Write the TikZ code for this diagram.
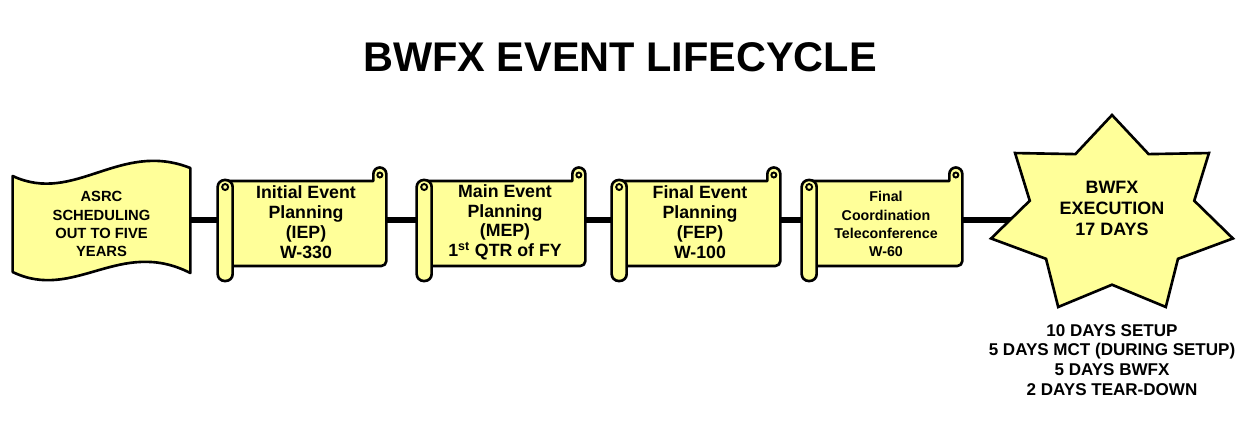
\documentclass[tikz,border=0pt]{standalone}
\usepackage{fontspec}
\setmainfont{Liberation Sans}
\usetikzlibrary{shapes.geometric,calc}
\definecolor{scrollyellow}{RGB}{255,255,153}
\pgfdeclarelayer{links}
\pgfdeclarelayer{shapes}
\pgfsetlayers{links,shapes,main}
\newcommand{\toppad}[1]{\rule{0pt}{#1}}
\newcommand{\scrollshape}[1]{%
  \draw[shapeline] ($(#1.west)+(0,-39)$) -- ($(#1.east)+(-13,-39)$) -- ($(#1.east)+(-13,-46)$)
    arc[start angle=180, end angle=0, radius=0.13cm] -- ($(#1.east)+(0,41)$)
    arc[start angle=0, end angle=-90, radius=0.1cm] -- ($(#1.west)+(0,46)$) -- cycle;
  \draw[curlline] ($(#1.east)+(-6.5,-45)$) circle (0.05cm);
  \draw[shapeline, rounded corners=0.14cm] ($(#1.west)+(-8,-40)$) rectangle ($(#1.west)+(7,61)$);
  \draw[curlline] ($(#1.west)+(-0.5,-33)$) circle (0.06cm);
}

\begin{document}
\begin{tikzpicture}[
  x=0.02cm, y=-0.02cm,
  shapeline/.style={draw=black, line width=1.5pt, fill=scrollyellow, line join=round},
  curlline/.style={draw=black, line width=1.1pt},
  link/.style={draw=black, line width=3.1pt},
  scrolltext/.style={inner sep=0pt, align=center, font=\fontsize{10.1}{11.3}\selectfont\bfseries},
  smalltext/.style={inner sep=0pt, align=center, font=\fontsize{8.4}{10.4}\selectfont\bfseries},
  execstar/.style={star, star points=7, star point ratio=1.47, minimum size=4.04cm, inner sep=0pt,
    outer sep=0pt, draw=black, line width=1.5pt, fill=scrollyellow, transform shape}
]
\useasboundingbox (0,0) rectangle (1247,424);
\node[font=\fontsize{23.6}{28}\selectfont\bfseries] (title) at (620,57) {BWFX EVENT LIFECYCLE};

\node[smalltext, minimum width=3.54cm] (asrc) at (101.5,220) {\toppad{10.5pt}ASRC\\SCHEDULING\\OUT TO FIVE\\YEARS};
\node[scrolltext, minimum width=3.2cm] (iep) at (306,220) {\toppad{10pt}Initial Event\\Planning\\(IEP)\\W-330};
\node[scrolltext, minimum width=3.2cm] (mep) at (505,220) {\toppad{10pt}Main Event\\Planning\\(MEP)\\1\textsuperscript{st} QTR of FY};
\node[scrolltext, minimum width=3.2cm] (fep) at (700,220) {\toppad{10pt}Final Event\\Planning\\(FEP)\\W-100};
\node[smalltext, font=\fontsize{8.1}{10.4}\selectfont\bfseries, minimum width=3.04cm] (fct) at (886,220) {\toppad{10.5pt}Final\\Coordination\\Teleconference\\W-60};
\node[scrolltext, font=\fontsize{10.2}{11.9}\selectfont\bfseries] (exectext) at (1112,208.5) {BWFX\\EXECUTION\\17 DAYS};
\node[scrolltext, font=\fontsize{9.7}{11.3}\selectfont\bfseries] (execnote) at (1112,360) {10 DAYS SETUP\\5 DAYS MCT (DURING SETUP)\\5 DAYS BWFX\\2 DAYS TEAR-DOWN};

\begin{pgfonlayer}{shapes}
\draw[shapeline] ($(asrc.west)+(0,-44)$) .. controls ($(asrc.west)+(62,-15)$) and ($(asrc.west)+(107,-80)$) .. ($(asrc.east)+(0,-52)$)
  -- ($(asrc.east)+(0,53)$) .. controls ($(asrc.west)+(107,17)$) and ($(asrc.west)+(62,82)$) .. ($(asrc.west)+(0,52)$) -- cycle;
\scrollshape{iep}
\scrollshape{mep}
\scrollshape{fep}
\scrollshape{fct}
\begin{scope}[shift={(1112,216)}, xscale=1.228]
\node[execstar] (exec) at (0,0) {};
\end{scope}
\end{pgfonlayer}

\begin{pgfonlayer}{links}
\draw[link] (asrc.east) -- (iep.west);
\draw[link] (iep.east) -- (mep.west);
\draw[link] (mep.east) -- (fep.west);
\draw[link] (fep.east) -- (fct.west);
\draw[link] (fct.east) -- (fct.east -| exec.west);
\end{pgfonlayer}
\end{tikzpicture}
\end{document}
